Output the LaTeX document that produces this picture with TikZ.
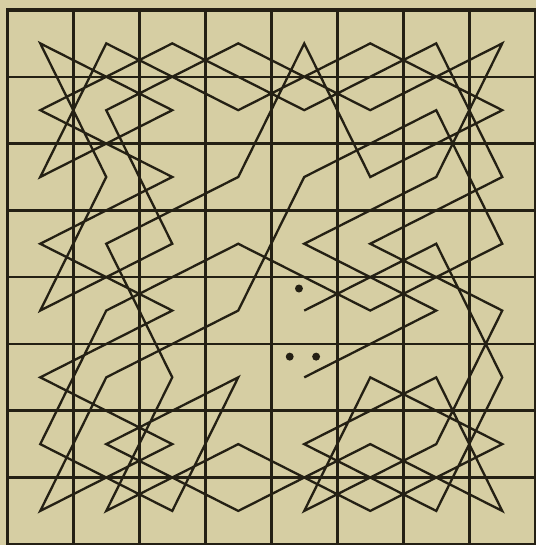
\documentclass[tikz,border=0pt]{standalone}
\usepackage{tikz}

\definecolor{paper}{RGB}{214,206,163}
\definecolor{ink}{RGB}{36,32,20}

\begin{document}
\begin{tikzpicture}[x=1cm, y=1.012cm,
    gridline/.style={ink, line width=1.1pt},
    rim/.style={ink, line width=1.4pt},
    tour/.style={ink, line width=1.0pt, line join=miter},
    spot/.style={fill=ink}]
  %% paper and margins
  \fill[paper] (-0.11,-0.01) rectangle (8.01,8.15);
  \useasboundingbox (-0.11,-0.01) rectangle (8.01,8.15);

  %% board
  \foreach \i in {1,...,7} {
    \draw[gridline] (\i,0) -- (\i,8);
    \draw[gridline] (0,\i) -- (8,\i);
  }
  \draw[rim] (0,0) rectangle (8,8);

  %% square centres: sq-column-row, row 0 on top
  \foreach \c in {0,...,7}
    \foreach \r in {0,...,7}
      \coordinate (sq-\c-\r) at (\c+0.5, 7.5-\r);

  %% knight's path
  \draw[tour] (sq-4-4)
    foreach \p in {6-3,7-5,6-7,4-6,6-5,7-7,5-6,3-7,1-6,3-5,2-7,0-6,1-4,3-3,
                   5-4,7-3,6-1,4-2,3-4,1-5,0-7,2-6,0-5,2-4,0-3,2-2,0-1,2-0,
                   4-1,6-0,7-2,5-3,7-4,6-6,4-7,5-5,7-6,5-7,3-6,1-7,2-5,1-3,
                   3-2,4-0,5-2,7-1,5-0,3-1,1-0,0-2,2-1,0-0,1-2,0-4,2-3,1-1,
                   3-0,5-1,7-0,6-2,4-3,6-4,4-5} { -- (sq-\p) };

  %% marks in the two end squares
  \fill[spot] (4.42,3.83) circle (0.06);
  \fill[spot] (4.28,2.81) circle (0.06);
  \fill[spot] (4.68,2.81) circle (0.06);
\end{tikzpicture}
\end{document}
